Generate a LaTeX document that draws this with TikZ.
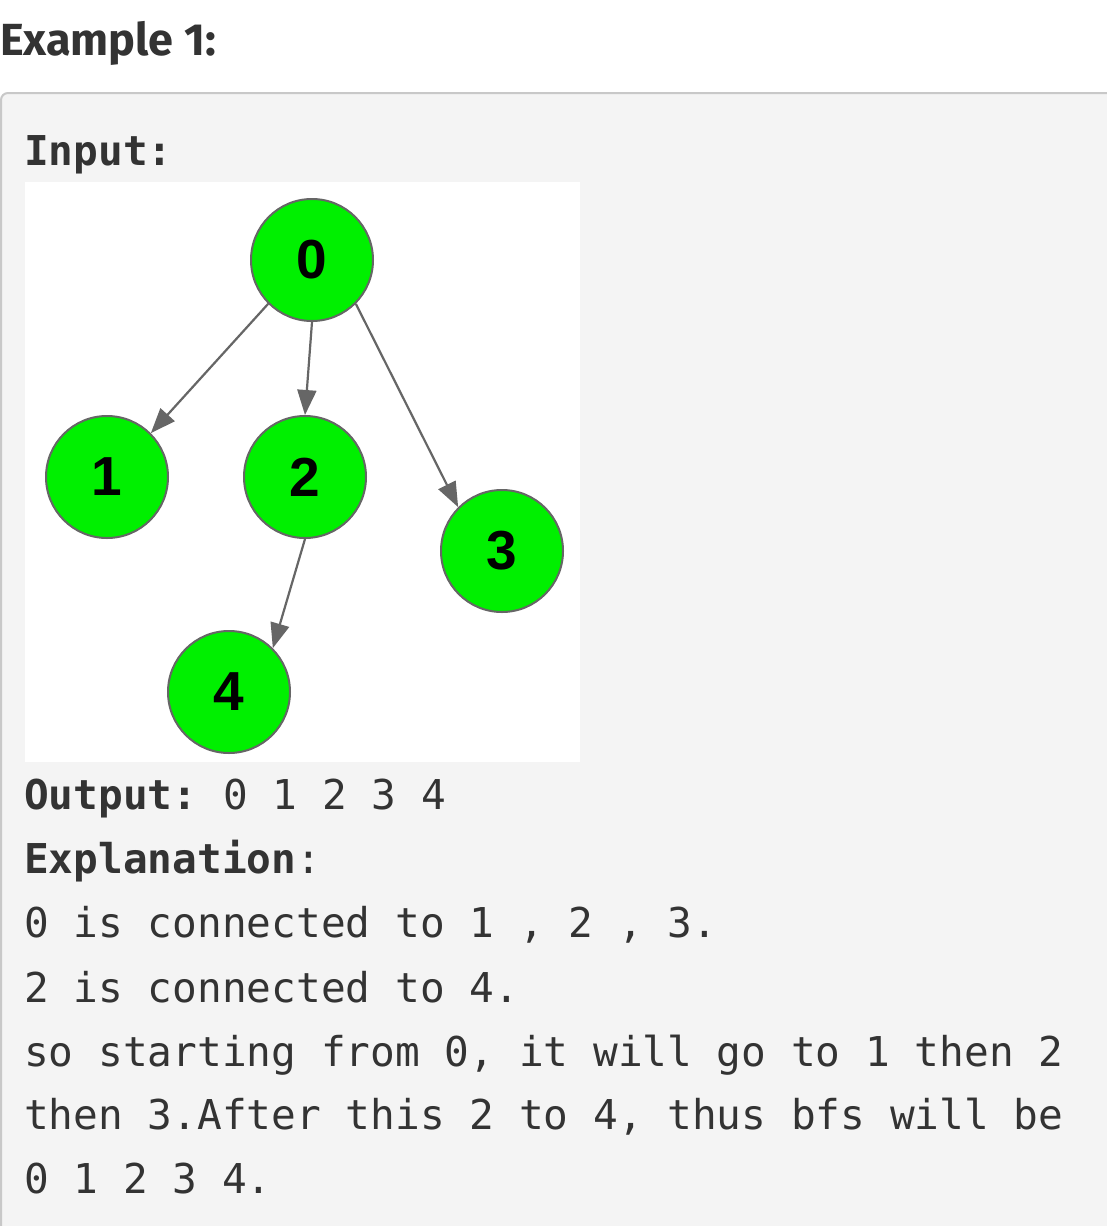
\documentclass[tikz,border=0pt]{standalone}
\usepackage{fontspec}
\setmainfont{Liberation Sans}
\newfontfamily\headfont{Fira Sans}
\newfontfamily\monofont{DejaVu Sans Mono}
\newfontfamily\labelfont{Liberation Sans}
\usetikzlibrary{arrows.meta}
\definecolor{txt}{HTML}{333333}
\definecolor{boxfill}{HTML}{F4F4F4}
\definecolor{boxline}{HTML}{C8C8C8}
\definecolor{nodegreen}{HTML}{00F000}
\definecolor{edgegray}{HTML}{666666}
\tikzset{
  x=1pt, y=-1pt,
  gnode/.style={circle, fill=nodegreen, draw=edgegray, line width=2pt, minimum size=122pt, inner sep=0pt,
    font=\labelfont\bfseries\fontsize{55}{60}\selectfont, text=black},
  edge/.style={draw=edgegray, line width=2.2pt, -{Triangle[length=25pt,width=19pt]}},
  mono/.style={anchor=base west, inner sep=0pt, text=txt, font=\monofont\fontsize{41.1}{48}\selectfont},
  head/.style={anchor=base west, inner sep=0pt, text=txt, font=\headfont\bfseries\fontsize{45}{50}\selectfont}
}
\begin{document}
\begin{tikzpicture}
\useasboundingbox (0,0) rectangle (1107,1226);
\clip (0,0) rectangle (1107,1226);
\fill[white] (0,0) rectangle (1107,1226);
\node[head] (title) at (0,55) {Example 1:};
\draw[fill=boxfill, draw=boxline, line width=2pt, rounded corners=7pt] (1,93) rectangle (1140,1260);
\node[mono] (input) at (24,165) {\textbf{Input:}};
\fill[white] (25,182) rectangle (580,762);
\node[gnode] (n0) at (312,260) {0};
\node[gnode] (n1) at (107,477) {1};
\node[gnode] (n2) at (305,477) {2};
\node[gnode] (n3) at (502,551) {3};
\node[gnode] (n4) at (229,692) {4};
\draw[edge] (n0.-135) -- (n1.45);
\draw[edge] (n0.-90) -- (n2.90);
\draw[edge] (n0.-45) -- (n3.135);
\draw[edge] (n2.-90) -- (n4.45);
\node[mono] (output) at (24,809) {\textbf{Output:}\hspace{-7pt} 0 1 2 3 4};
\node[mono] (expl) at (24,873) {\textbf{Explanation}:};
\node[mono] (l1) at (24,937) {0 is connected to 1 , 2 , 3.};
\node[mono] (l2) at (24,1002) {2 is connected to 4.};
\node[mono] (l3) at (24,1066) {so starting from 0, it will go to 1 then 2};
\node[mono] (l4) at (24,1129) {then 3.After this 2 to 4, thus bfs will be};
\node[mono] (l5) at (24,1193) {0 1 2 3 4.};
\end{tikzpicture}
\end{document}
